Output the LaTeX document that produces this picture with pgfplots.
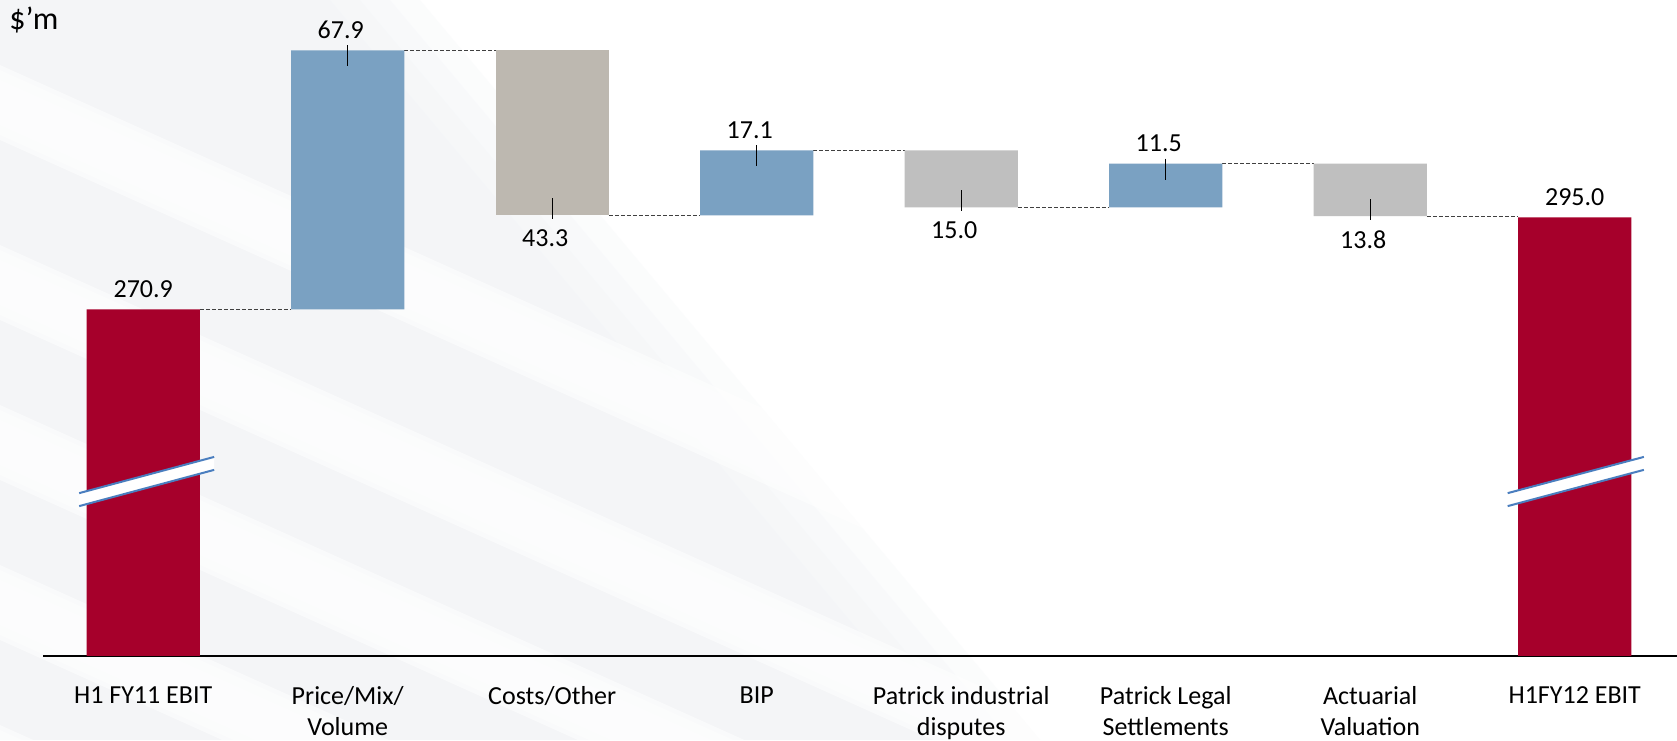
\documentclass[border=0pt]{standalone}
\usepackage{pgfplots}
\pgfplotsset{compat=1.18}
\usepackage{pgfplotstable}
\usepackage{fontspec}
\setmainfont{Carlito}

\definecolor{ebitred}{HTML}{A6002B}
\definecolor{gainblue}{HTML}{7AA1C2}
\definecolor{costtaupe}{HTML}{BDB8B0}
\definecolor{lossgrey}{HTML}{BFBFBF}
\definecolor{breakblue}{HTML}{4A7EBF}
\definecolor{bgstripe}{HTML}{EFF2F5}
\definecolor{connector}{HTML}{404040}

% EBIT bridge: invisible base plus one column per bar colour
\pgfplotstableread{
x base red blue taupe grey
0 0 270.9 0 0 0
1 270.9 0 67.9 0 0
2 295.5 0 0 43.3 0
3 295.5 0 17.1 0 0
4 297.6 0 0 0 15.0
5 297.6 0 11.5 0 0
6 295.3 0 0 0 13.8
7 0 295.0 0 0 0
}\bridge

\newcommand{\lblfont}{\fontsize{13}{15.5}\selectfont}

% label above a rising bar, with a short tick across its top edge
\newcommand{\uplabel}[3]{%
  \draw[black, line width=0.6pt] (axis cs:#1,#2) ++(0pt,2.5pt) -- ++(0pt,-10.5pt);
  \node[anchor=base, inner sep=0pt, font=\lblfont, xshift=-3.5pt, yshift=6pt] at (axis cs:#1,#2) {#3};}
% label below a falling bar, with a short tick across its bottom edge
\newcommand{\downlabel}[3]{%
  \draw[black, line width=0.6pt] (axis cs:#1,#2) ++(0pt,8.5pt) -- ++(0pt,-10.5pt);
  \node[anchor=north, inner sep=0pt, font=\lblfont, xshift=-3.5pt, yshift=-7pt] at (axis cs:#1,#2) {#3};}
% white band with blue edges marking the broken scale
\newcommand{\breakmark}[2]{%
  \fill[white] (axis cs:#1,222.7) -- (axis cs:#2,232.2)
    -- (axis cs:#2,228.8) -- (axis cs:#1,219.3) -- cycle;
  \draw[breakblue, line width=1pt] (axis cs:#1,222.7) -- (axis cs:#2,232.2);
  \draw[breakblue, line width=1pt] (axis cs:#1,219.3) -- (axis cs:#2,228.8);}

\begin{document}
\begin{tikzpicture}
% slide background: faint grey wedge with soft diagonal streaks
\begin{scope}[x=0.5pt, y=-0.5pt, shift={(0pt,370pt)}]
  \fill[white] (0,0) rectangle (1677,740);
  \foreach \d in {0,30,60,90} {
    \begin{scope}
      \clip (0,0) -- (330+\d,0) -- (950+\d,740) -- (0,740) -- cycle;
      \fill[bgstripe, opacity=0.22] (0,0) rectangle (1677,740);
      \foreach \y in {80,260,420,580,740} {
        \fill[white, opacity=0.5] (0,\y-\d/6) -- (0,\y+45+\d/6) -- (1600,\y+45+720+\d/6) -- (1600,\y+720-\d/6) -- cycle;
      }
    \end{scope}
  }
  \node[anchor=base west, inner sep=0pt, font=\fontsize{16}{19}\selectfont] at (9,30) {\$’m};
\end{scope}

\begin{axis}[
  at={(21.5pt,42pt)}, anchor=south west,
  scale only axis, width=817pt, height=328pt,
  xmin=-0.49, xmax=7.5, ymin=180, ymax=352,
  ybar stacked, bar width=0.553,
  axis x line=bottom, axis y line=none,
  x axis line style={-, black, line width=1pt},
  xtick={0,1,2,3,4,5,6,7},
  xticklabels={H1 FY11 EBIT, {Price/Mix/\\Volume}, Costs/Other, BIP,
    {Patrick industrial\\disputes}, {Patrick Legal\\Settlements},
    {Actuarial\\Valuation}, H1FY12 EBIT},
  major tick length=0pt,
  xticklabel style={align=center, anchor=north, inner sep=0pt, yshift=-15pt, font=\lblfont},
  clip mode=individual,
  conn/.style={stack plots=false, sharp plot, no marks, forget plot,
      connector, line width=0.5pt, dash pattern=on 2pt off 1pt},
  after end axis/.code={
    % value labels
    \uplabel{1}{338.8}{67.9}
    \uplabel{3}{312.6}{17.1}
    \uplabel{5}{309.1}{11.5}
    \downlabel{2}{295.5}{43.3}
    \downlabel{4}{297.6}{15.0}
    \downlabel{6}{295.3}{13.8}
    \node[anchor=base, inner sep=0pt, font=\lblfont, yshift=6pt] at (axis cs:0,270.9) {270.9};
    \node[anchor=base, inner sep=0pt, font=\lblfont, yshift=6pt] at (axis cs:7,295.0) {295.0};
    % axis break marks on the two EBIT bars
    \breakmark{-0.313}{0.347}
    \breakmark{6.672}{7.338}
  },
]
  \addplot[draw=none, fill=none] table[x=x, y=base]{\bridge};
  \addplot[draw=none, fill=ebitred] table[x=x, y=red]{\bridge};
  \addplot[draw=none, fill=gainblue] table[x=x, y=blue]{\bridge};
  \addplot[draw=none, fill=costtaupe] table[x=x, y=taupe]{\bridge};
  \addplot[draw=none, fill=lossgrey] table[x=x, y=grey]{\bridge};

  % dashed connectors between consecutive bars
  \addplot[conn] coordinates {(0.2765,270.9) (0.7235,270.9)};
  \addplot[conn] coordinates {(1.2765,338.8) (1.7235,338.8)};
  \addplot[conn] coordinates {(2.2765,295.5) (2.7235,295.5)};
  \addplot[conn] coordinates {(3.2765,312.6) (3.7235,312.6)};
  \addplot[conn] coordinates {(4.2765,297.6) (4.7235,297.6)};
  \addplot[conn] coordinates {(5.2765,309.1) (5.7235,309.1)};
  \addplot[conn] coordinates {(6.2765,295.3) (6.7235,295.3)};
\end{axis}
\pgfresetboundingbox
\useasboundingbox (0,0) rectangle (838.5pt,370pt);
\end{tikzpicture}
\end{document}
